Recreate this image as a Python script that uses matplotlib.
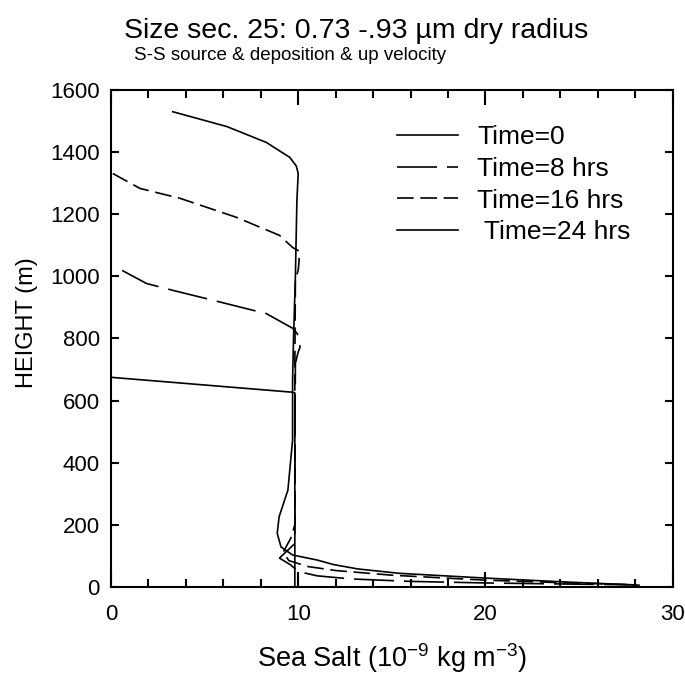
import matplotlib
matplotlib.use("Agg")
import matplotlib.pyplot as plt
import matplotlib.ticker as mticker

plt.rcParams["font.family"] = ["Liberation Sans", "DejaVu Sans"]
plt.rcParams["mathtext.default"] = "regular"

# ── data ──────────────────────────────────────────────────────────────────
labels = ["Time=0", "Time=8 hrs", "Time=16 hrs", " Time=24 hrs"]

salt_t0 = [0.0, 9.7, 9.82, 9.82]
hgt_t0 = [675, 627, 625, 0]

salt_t8 = [0.6, 1.9, 3.3, 5.45, 8.3, 9.7, 9.95, 10.1, 10.0, 9.85, 9.82, 9.82,
           9.0, 9.6, 10.0, 11.0, 12.8, 16.0, 20.0, 25.0, 28.0]
hgt_t8 = [1019, 977, 955, 923, 880, 833, 816, 772, 757, 720, 400, 140,
          93, 71, 50, 36, 26, 18, 13, 9, 7]

salt_t16 = [0.1, 1.55, 3.7, 6.7, 9.0, 9.7, 10.0, 10.05, 10.0, 9.85, 9.82, 9.82,
            9.6, 9.2, 9.5, 10.5, 12.0, 15.0, 20.0, 24.0, 28.0]
hgt_t16 = [1331, 1283, 1251, 1190, 1132, 1093, 1083, 1051, 1020, 990, 700, 200,
           157, 112, 85, 66, 53, 38, 22, 14, 7]

salt_t24 = [3.3, 6.2, 8.3, 9.55, 9.9, 10.0, 9.93, 9.85, 9.75, 9.7, 9.7, 9.45,
            8.98, 8.88, 9.08, 9.7, 11.0, 11.9, 13.2, 15.4, 19.9, 24.3, 28.2]
hgt_t24 = [1530, 1482, 1431, 1383, 1355, 1331, 1244, 1000, 800, 665, 473, 312,
           226, 173, 129, 103, 87, 72, 58, 44, 29, 16, 6]

# ── figure ────────────────────────────────────────────────────────────────
fig = plt.figure(figsize=(6.85, 6.79), dpi=100, facecolor="white")
ax = fig.add_axes([0.162, 0.1355, 0.820, 0.732])

LW = 1.2
ax.plot(salt_t0, hgt_t0, color="black", lw=LW, label=labels[0])
ax.plot(salt_t8, hgt_t8, color="black", lw=LW, ls=(0, (24, 6)), label=labels[1])
ax.plot(salt_t16, hgt_t16, color="black", lw=LW, ls=(0, (10, 4)), label=labels[2])
ax.plot(salt_t24, hgt_t24, color="black", lw=LW, label=labels[3])

ax.set_xlim(0, 30)
ax.set_ylim(0, 1600)
ax.xaxis.set_major_locator(mticker.MultipleLocator(10))
ax.xaxis.set_minor_locator(mticker.MultipleLocator(2))
ax.yaxis.set_major_locator(mticker.MultipleLocator(200))

ax.tick_params(which="both", direction="in", top=True, right=True, width=1.5)
ax.tick_params(which="major", axis="x", length=11, pad=12, labelsize=16)
ax.tick_params(which="minor", axis="x", length=5.5)
ax.tick_params(which="major", axis="y", length=6, pad=8, labelsize=16)
for s in ax.spines.values():
    s.set_linewidth(1.5)

ax.set_xlabel("Sea Salt (10$^{-9}$ kg m$^{-3}$)", fontsize=19.5, labelpad=12)
ax.set_ylabel("HEIGHT (m)", fontsize=17)
ax.yaxis.set_label_coords(-0.13, 0.531)

ax.legend(loc="upper left", bbox_to_anchor=(0.509, 0.929), frameon=False,
          fontsize=19, handlelength=2.3, handletextpad=0.75,
          labelspacing=0.29, borderpad=0, borderaxespad=0)

fig.text(0.52, 0.955, "Size sec. 25: 0.73 -.93 \u00b5m dry radius",
         ha="center", va="center", fontsize=20.5)
fig.text(0.195, 0.918, "S-S source & deposition & up velocity",
         ha="left", va="center", fontsize=13.5)

fig.savefig("out.png", dpi=100, facecolor="white")
